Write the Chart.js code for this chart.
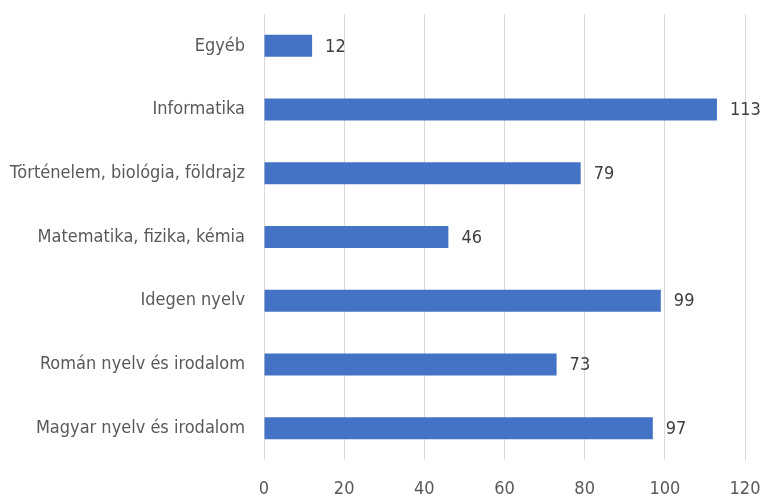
<!DOCTYPE html>
<html>
<head>
<meta charset="utf-8">
<script src="https://cdn.jsdelivr.net/npm/chart.js@4"></script>
<style>
  html, body { margin: 0; padding: 0; background: #fff; }
  #wrap { width: 764px; height: 496px; }
</style>
</head>
<body>
<div id="wrap"><canvas id="chart" width="764" height="496"></canvas></div>
<script>
const categories = [
  'Egyéb',
  'Informatika',
  'Történelem, biológia, földrajz',
  'Matematika, fizika, kémia',
  'Idegen nyelv',
  'Román nyelv és irodalom',
  'Magyar nyelv és irodalom'
];
const values = [12, 113, 79, 46, 99, 73, 97];
const xTicks = [0, 20, 40, 60, 80, 100, 120];

const FONT = '"Liberation Sans Narrow", "DejaVu Sans Condensed", sans-serif';

// value labels next to each bar
const valueLabels = {
  id: 'valueLabels',
  afterDatasetsDraw(chart) {
    const ctx = chart.ctx;
    const meta = chart.getDatasetMeta(0);
    ctx.save();
    ctx.font = '18px ' + FONT;
    ctx.fillStyle = '#404040';
    ctx.textAlign = 'left';
    ctx.textBaseline = 'middle';
    meta.data.forEach((bar, i) => {
      ctx.fillText(String(values[i]), bar.x + 13, bar.y + 1);
    });
    ctx.restore();
  }
};

// drop the extra padding chart.js adds for label overflow
function noPad(scale) {
  scale.paddingTop = 0;
  scale.paddingBottom = 0;
  scale.paddingLeft = 0;
  scale.paddingRight = 0;
}

const ctx = document.getElementById('chart').getContext('2d');
new Chart(ctx, {
  type: 'bar',
  data: {
    labels: categories,
    datasets: [{
      data: values,
      backgroundColor: '#4472C4',
      borderWidth: 0,
      categoryPercentage: 1,
      barPercentage: 0.345
    }]
  },
  options: {
    indexAxis: 'y',
    responsive: false,
    animation: false,
    layout: { padding: { top: 14, right: 19, left: 0, bottom: 0 } },
    plugins: {
      legend: { display: false },
      tooltip: { enabled: false }
    },
    scales: {
      x: {
        min: 0,
        max: 120,
        afterBuildTicks(scale) {
          scale.ticks = xTicks.map(v => ({ value: v }));
        },
        afterFit(scale) { scale.height = 36; noPad(scale); },
        grid: { color: '#d9d9d9', drawTicks: false },
        border: { display: false },
        ticks: {
          padding: 19,
          color: '#595959',
          font: { family: FONT, size: 18 }
        }
      },
      y: {
        afterFit(scale) { scale.width = 264; noPad(scale); },
        grid: { display: false, drawTicks: false },
        border: { display: false },
        ticks: {
          padding: 19,
          color: '#595959',
          font: { family: FONT, size: 18 }
        }
      }
    }
  },
  plugins: [valueLabels]
});
</script>
</body>
</html>
